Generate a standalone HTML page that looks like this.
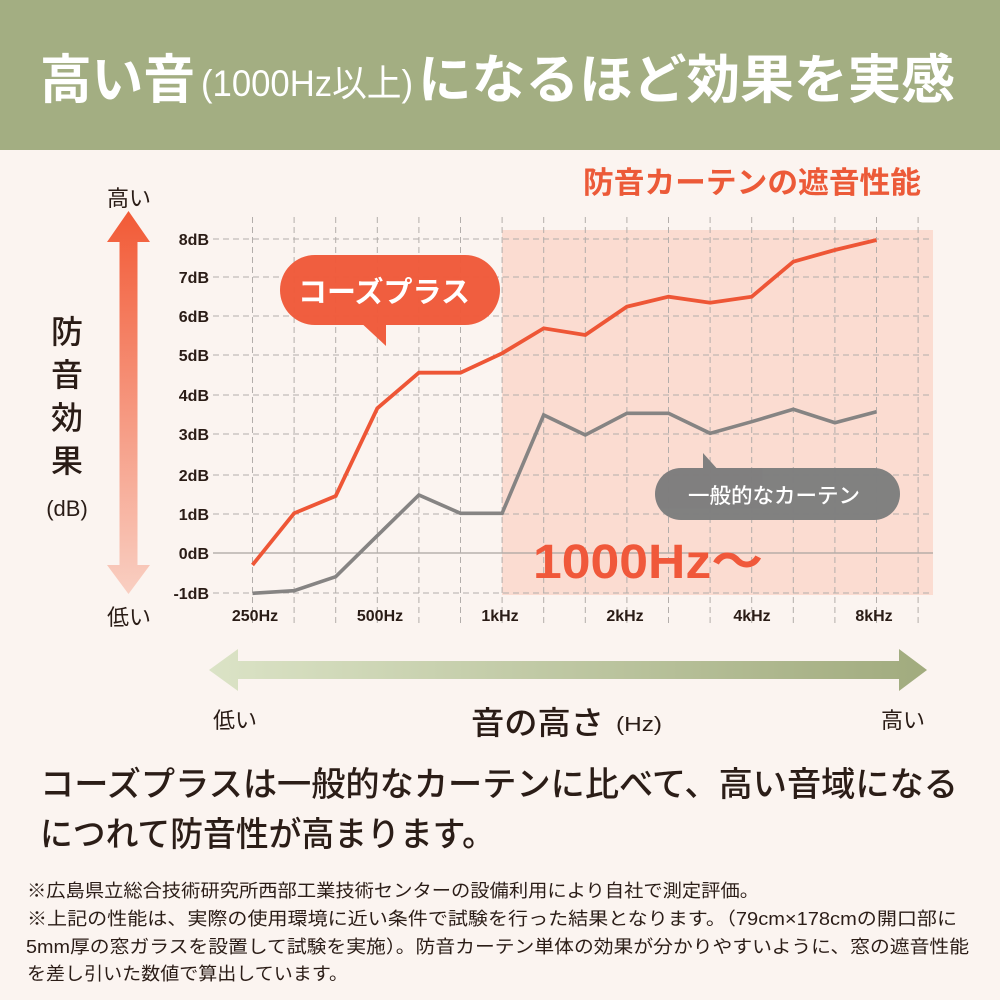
<!DOCTYPE html>
<html><head><meta charset="utf-8"><style>
html,body{margin:0;padding:0;background:#fbf4f0;}
svg{display:block;}
text{font-family:"Liberation Sans","Noto Sans CJK JP",sans-serif;}
</style></head><body>
<svg width="1000" height="1000" viewBox="0 0 1000 1000" xmlns="http://www.w3.org/2000/svg">
<defs>
<linearGradient id="vg" x1="0" y1="0" x2="0" y2="1">
<stop offset="0" stop-color="#f25a36"/><stop offset="1" stop-color="#f9cfc2"/>
</linearGradient>
<linearGradient id="hg" x1="0" y1="0" x2="1" y2="0">
<stop offset="0" stop-color="#dbe3c6"/><stop offset="1" stop-color="#a1ab7e"/>
</linearGradient>
</defs>
<rect x="0" y="0" width="1000" height="1000" fill="#fbf4f0"/>
<rect x="0" y="0" width="1000" height="150" fill="#a3ae82"/>
<text x="40" y="98" font-size="53" font-weight="700" fill="#ffffff" textLength="155" lengthAdjust="spacingAndGlyphs">高い音</text>
<text x="201" y="96" font-size="37" font-weight="400" fill="#ffffff" textLength="212" lengthAdjust="spacingAndGlyphs">(1000Hz以上)</text>
<text x="418" y="98" font-size="53" font-weight="700" fill="#ffffff" textLength="537" lengthAdjust="spacingAndGlyphs">になるほど効果を実感</text>

<text x="583" y="193" font-size="30" font-weight="700" fill="#ec5a38" textLength="338" lengthAdjust="spacingAndGlyphs">防音カーテンの遮音性能</text>

<rect x="502" y="230" width="431" height="365" fill="#fbdcd1"/>

<g stroke="#b3aeab" stroke-width="1" stroke-dasharray="6 4" fill="none">
<line x1="213" y1="239" x2="933" y2="239"/>
<line x1="213" y1="277" x2="933" y2="277"/>
<line x1="213" y1="316" x2="933" y2="316"/>
<line x1="213" y1="355" x2="933" y2="355"/>
<line x1="213" y1="395" x2="933" y2="395"/>
<line x1="213" y1="434" x2="933" y2="434"/>
<line x1="213" y1="475" x2="933" y2="475"/>
<line x1="213" y1="514" x2="933" y2="514"/>
<line x1="213" y1="593" x2="933" y2="593"/>
</g>
<line x1="213" y1="553" x2="933" y2="553" stroke="#a9a4a1" stroke-width="1.2"/>
<g stroke="#b3aeab" stroke-width="1" stroke-dasharray="6 4" fill="none">
<line x1="252.5" y1="217" x2="252.5" y2="623"/>
<line x1="294.1" y1="217" x2="294.1" y2="623"/>
<line x1="335.7" y1="217" x2="335.7" y2="623"/>
<line x1="377.3" y1="217" x2="377.3" y2="623"/>
<line x1="418.9" y1="217" x2="418.9" y2="623"/>
<line x1="460.5" y1="217" x2="460.5" y2="623"/>
<line x1="502.1" y1="217" x2="502.1" y2="623"/>
<line x1="543.7" y1="217" x2="543.7" y2="623"/>
<line x1="585.3" y1="217" x2="585.3" y2="623"/>
<line x1="626.9" y1="217" x2="626.9" y2="623"/>
<line x1="668.5" y1="217" x2="668.5" y2="623"/>
<line x1="710.1" y1="217" x2="710.1" y2="623"/>
<line x1="751.7" y1="217" x2="751.7" y2="623"/>
<line x1="793.3" y1="217" x2="793.3" y2="623"/>
<line x1="834.9" y1="217" x2="834.9" y2="623"/>
<line x1="876.5" y1="217" x2="876.5" y2="623"/>
<line x1="918.1" y1="217" x2="918.1" y2="623"/>
</g>

<g font-size="16" font-weight="700" fill="#2a1c16" text-anchor="end">
<text x="209" y="245">8dB</text>
<text x="209" y="283">7dB</text>
<text x="209" y="322">6dB</text>
<text x="209" y="361">5dB</text>
<text x="209" y="401">4dB</text>
<text x="209" y="440">3dB</text>
<text x="209" y="481">2dB</text>
<text x="209" y="520">1dB</text>
<text x="209" y="559">0dB</text>
<text x="209" y="599">-1dB</text>
</g>
<g font-size="16" font-weight="700" fill="#2a1c16" text-anchor="middle">
<text x="255" y="621">250Hz</text>
<text x="380" y="621">500Hz</text>
<text x="500" y="621">1kHz</text>
<text x="625" y="621">2kHz</text>
<text x="752" y="621">4kHz</text>
<text x="874" y="621">8kHz</text>
</g>

<text x="533" y="578" font-size="48" font-weight="700" fill="#f0583a" textLength="230" lengthAdjust="spacingAndGlyphs">1000Hz〜</text>

<polyline fill="none" stroke="#868483" stroke-width="3.6" stroke-linejoin="miter" points="252.5,593.3 294.1,590.7 335.7,576.7 377.3,535.7 418.9,495 460.5,513.3 502.1,513.3 543.7,415 585.3,435 626.9,413.3 668.5,413.3 710.1,433.3 751.7,421.7 793.3,409.3 834.9,422.7 876.5,411.7"/>
<polyline fill="none" stroke="#ee5636" stroke-width="3.8" stroke-linejoin="miter" points="252.5,565 294.1,513.3 335.7,496 377.3,408.3 418.9,372.7 460.5,372.7 502.1,353.3 543.7,328.3 585.3,335 626.9,306.7 668.5,296.7 710.1,302.7 751.7,296.7 793.3,261.7 834.9,250 876.5,240"/>

<g fill="#f05a3a" opacity="0.97">
<rect x="280" y="255" width="220" height="70" rx="35"/>
<polygon points="358,320 386,320 386,346"/>
</g>
<text x="298" y="302" font-size="29" font-weight="700" fill="#ffffff" textLength="172" lengthAdjust="spacingAndGlyphs">コーズプラス</text>

<g fill="#7e7e7e" opacity="0.98">
<rect x="655" y="468" width="245" height="52" rx="26"/>
<polygon points="703,453 703,472 720,472"/>
</g>
<text x="688" y="503" font-size="21" font-weight="500" fill="#ffffff" textLength="172" lengthAdjust="spacingAndGlyphs">一般的なカーテン</text>

<polygon fill="url(#vg)" points="128.5,211 150,242 137.5,242 137.5,565 150,565 128.5,594 107,565 119.5,565 119.5,242 107,242"/>
<text x="129" y="206" font-size="22" fill="#2a1c16" text-anchor="middle">高い</text>
<text x="129" y="625" font-size="22" fill="#2a1c16" text-anchor="middle">低い</text>
<g font-size="32" font-weight="500" fill="#2a1c16" text-anchor="middle">
<text x="67" y="343">防</text>
<text x="67" y="386">音</text>
<text x="67" y="429">効</text>
<text x="67" y="472">果</text>
</g>
<text x="67" y="516" font-size="22" fill="#2a1c16" text-anchor="middle">(dB)</text>

<polygon fill="url(#hg)" points="209,670 238,649 238,661 899,661 899,649 927,670 899,691 899,679 238,679 238,691"/>
<text x="213" y="728" font-size="22" fill="#2a1c16">低い</text>
<text x="925" y="728" font-size="22" fill="#2a1c16" text-anchor="end">高い</text>
<text x="471" y="734" font-size="32" font-weight="500" fill="#2a1c16" textLength="133" lengthAdjust="spacingAndGlyphs">音の高さ</text>
<text x="616" y="731" font-size="20" fill="#2a1c16" textLength="46" lengthAdjust="spacingAndGlyphs">(Hz)</text>

<text x="40" y="796" font-size="34" font-weight="500" fill="#2b1d17" textLength="918" lengthAdjust="spacingAndGlyphs">コーズプラスは一般的なカーテンに比べて、高い音域になる</text>
<text x="40" y="846" font-size="34" font-weight="500" fill="#2b1d17" textLength="455" lengthAdjust="spacingAndGlyphs">につれて防音性が高まります。</text>

<g font-size="18" fill="#2b1d17">
<text x="27" y="897" textLength="732" lengthAdjust="spacingAndGlyphs">※広島県立総合技術研究所西部工業技術センターの設備利用により自社で測定評価。</text>
<text x="27" y="925" textLength="930" lengthAdjust="spacingAndGlyphs">※上記の性能は、実際の使用環境に近い条件で試験を行った結果となります。（79cm×178cmの開口部に</text>
<text x="26" y="953" textLength="943" lengthAdjust="spacingAndGlyphs">5mm厚の窓ガラスを設置して試験を実施）。防音カーテン単体の効果が分かりやすいように、窓の遮音性能</text>
<text x="27" y="980" textLength="321" lengthAdjust="spacingAndGlyphs">を差し引いた数値で算出しています。</text>
</g>
</svg>
</body></html>
